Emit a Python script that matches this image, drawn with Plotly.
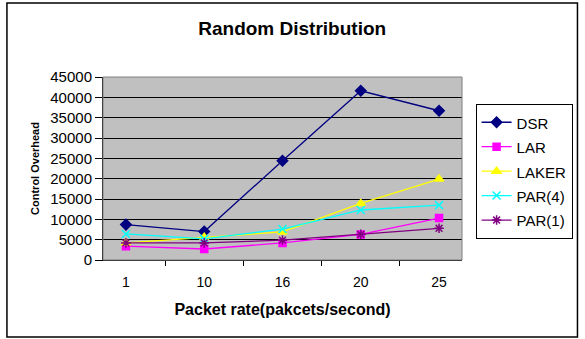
import plotly.graph_objects as go

categories = ["1", "10", "16", "20", "25"]
dsr = [8700, 7000, 24400, 41600, 36700]
lar = [3400, 2700, 4200, 6300, 10300]
laker = [4200, 5600, 6900, 13900, 19900]
par4 = [6400, 5200, 7600, 12300, 13500]
par1 = [4200, 4200, 4900, 6300, 7800]
y_ticks = [0, 5000, 10000, 15000, 20000, 25000, 30000, 35000, 40000, 45000]

series = [
    ("DSR", dsr, "#000080", "diamond", 8),
    ("LAR", lar, "#FF00FF", "square", 7),
    ("LAKER", laker, "#FFFF00", "triangle-up", 8),
    ("PAR(4)", par4, "#00FFFF", "x-thin-open", 8),
    ("PAR(1)", par1, "#800080", "asterisk-open", 8),
]

fig = go.Figure()
for name, vals, color, sym, size in series:
    fig.add_trace(go.Scatter(
        x=categories, y=vals, mode="lines+markers",
        name='<span style="font-size:15px">' + name + '</span>',
        line=dict(color=color, width=1.3),
        marker=dict(symbol=sym, size=size, color=color,
                    line=dict(color=color, width=1.5)),
    ))

L, R, T, B = 103, 112, 77, 79
W, H = 585, 339
pw, ph = W - L - R, H - T - B

def px(x):
    return (x - L) / pw

def py(y):
    return (H - B - y) / ph

fig.update_layout(
    width=W, height=H,
    margin=dict(l=L, r=R, t=T, b=B),
    paper_bgcolor="white",
    plot_bgcolor="#C0C0C0",
    font=dict(family="Liberation Sans, Arial", size=14, color="black"),
    title=dict(text="<b>Random Distribution</b>", x=px(298), xref="paper",
               y=1 - 28 / H, yanchor="middle", xanchor="center",
               font=dict(size=19)),
    showlegend=True,
    legend=dict(x=px(487), y=py(104), xanchor="left", yanchor="top",
                bgcolor="white", bordercolor="black", borderwidth=1,
                font=dict(size=16.5), itemwidth=30, tracegroupgap=0),
    xaxis=dict(
        type="category", showgrid=False, showline=True, linecolor="black",
        linewidth=1, ticks="outside", tickson="boundaries", ticklen=5,
        tickcolor="black", ticklabelstandoff=9,
        title=dict(text="<b>Packet rate(pakcets/second)</b>", font=dict(size=16),
                   standoff=15),
        tickfont=dict(size=14),
    ),
    yaxis=dict(
        range=[0, 45000], tickvals=y_ticks, ticktext=[str(v) for v in y_ticks],
        showgrid=True, gridcolor="black",
        gridwidth=1, showline=True, linecolor="black", linewidth=1,
        ticks="outside", ticklen=7, tickcolor="black", zeroline=False,
        title=dict(text="<b>Control Overhead</b>", font=dict(size=11), standoff=8),
        tickfont=dict(size=15),
    ),
    shapes=[
        dict(type="rect", xref="paper", yref="paper",
             x0=px(4), x1=px(592), y0=py(337), y1=py(3),
             line=dict(color="black", width=1.5), fillcolor="rgba(0,0,0,0)"),
        dict(type="rect", xref="paper", yref="paper", x0=0, x1=1, y0=0, y1=1,
             line=dict(color="#808080", width=1), fillcolor="rgba(0,0,0,0)"),
    ],
)

fig.write_html("out.html")
